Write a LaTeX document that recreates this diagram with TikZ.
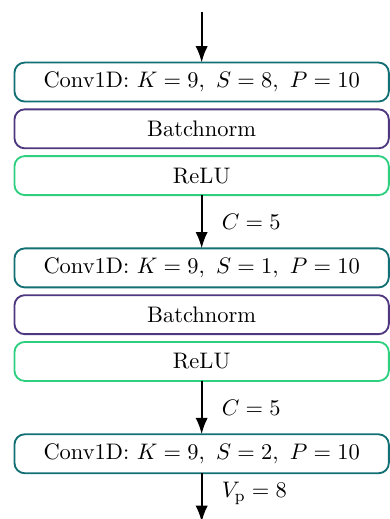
\documentclass[tikz,border=0pt]{standalone}
\usetikzlibrary{positioning,arrows.meta}

\definecolor{convcolor}{RGB}{18,112,116}
\definecolor{bncolor}{RGB}{78,56,128}
\definecolor{relucolor}{RGB}{46,208,128}

\tikzset{
  every node/.style={font=\fontsize{10.95pt}{13pt}\selectfont},
  layer/.style={draw, line width=0.9pt, rounded corners=5pt, minimum width=182.5pt, minimum height=19pt, inner sep=0pt, outer sep=0pt},
  conv/.style={layer, draw=convcolor},
  bn/.style={layer, draw=bncolor},
  relu/.style={layer, draw=relucolor},
  flow/.style={-{Latex[length=8pt,width=6pt]}, line width=1pt},
  dimlabel/.style={right, xshift=6pt}
}

\begin{document}
\begin{tikzpicture}
\useasboundingbox (0,0) rectangle (190.1pt,-253pt);
\node[conv] (conv1) at (98.3pt,-40pt) {Conv1D: $K=9,\ S=8,\ P=10$};
\node[bn, below=3.8pt of conv1] (bn1) {Batchnorm};
\node[relu, below=3.8pt of bn1] (relu1) {ReLU};
\node[conv, below=26pt of relu1] (conv2) {Conv1D: $K=9,\ S=1,\ P=10$};
\node[bn, below=3.8pt of conv2] (bn2) {Batchnorm};
\node[relu, below=3.8pt of bn2] (relu2) {ReLU};
\node[conv, below=26pt of relu2] (conv3) {Conv1D: $K=9,\ S=2,\ P=10$};
\coordinate[above=24.6pt of conv1.north] (input);
\coordinate[below=23.8pt of conv3.south] (output);
\draw[flow] (input) -- (conv1);
\draw[flow] (relu1) -- node[dimlabel] {$C=5$} (conv2);
\draw[flow] (relu2) -- node[dimlabel] {$C=5$} (conv3);
\draw[flow] (conv3) -- node[dimlabel, yshift=2pt] {$V_{\mathrm{p}}=8$} (output);
\end{tikzpicture}
\end{document}
